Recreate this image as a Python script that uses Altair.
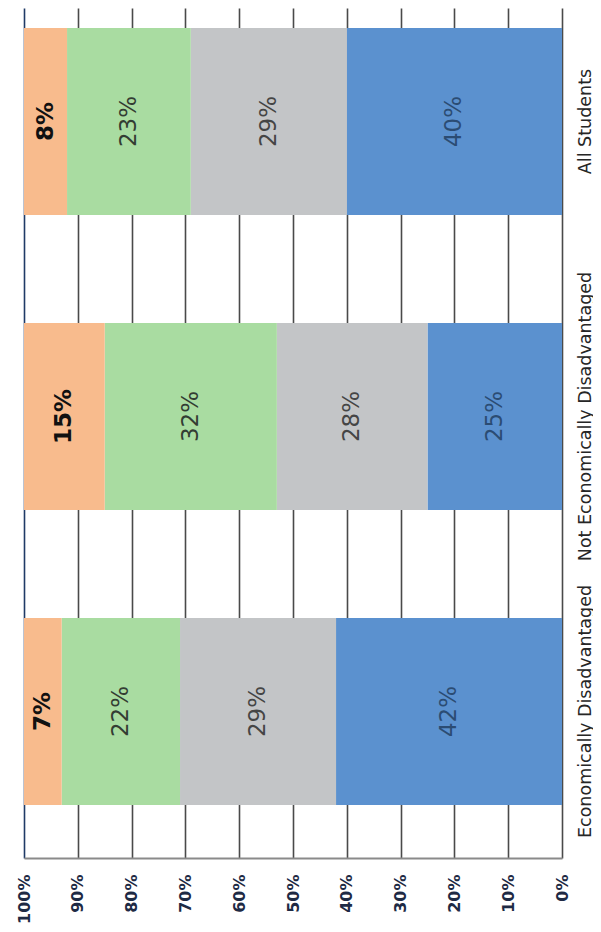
import altair as alt
import pandas as pd

# Categories (top to bottom as drawn)
categories = ["All Students", "Not Economically Disadvantaged", "Economically Disadvantaged"]
# Stack levels, from the 0% end (right) to the 100% end (left)
levels = ["Level 1", "Level 2", "Level 3", "Level 4"]
level_colors = ["#5B91CF", "#C3C5C7", "#A9DCA1", "#F8BB8D"]
label_colors = ["#2B4C73", "#454545", "#333D33", "#111111"]

values_all_students = [40, 29, 23, 8]
values_not_econ = [25, 28, 32, 15]
values_econ = [42, 29, 22, 7]

tick_values = [0.0, 0.1, 0.2, 0.3, 0.4, 0.5, 0.6, 0.7, 0.8, 0.9, 1.0]

series = {
    "All Students": values_all_students,
    "Not Economically Disadvantaged": values_not_econ,
    "Economically Disadvantaged": values_econ,
}

rows = []
for cat in categories:
    for i, lvl in enumerate(levels):
        rows.append({"category": cat, "level": lvl, "order": i,
                     "value": series[cat][i] / 100.0,
                     "label": f"{series[cat][i]}%"})
df = pd.DataFrame(rows)

y_enc = alt.Y(
    "category:N",
    sort=categories,
    scale=alt.Scale(domain=categories, paddingInner=0.366, paddingOuter=0.1237, align=0.274),
    axis=alt.Axis(
        orient="right", title=None, labelAngle=270, labelAlign="center", labelBaseline="top",
        labelPadding=14, labelFontSize=17.5, labelFont="DejaVu Sans", labelColor="#262626",
        labelLimit=500, domain=False, ticks=False, grid=False,
    ),
)

x_scale = alt.Scale(domain=[0, 1], reverse=True, nice=False, zero=True)

base = alt.Chart(df).transform_stack(
    stack="value", as_=["start", "end"], groupby=["category"],
    sort=[alt.SortField("order", order="ascending")],
).transform_calculate(mid="(datum.start + datum.end) / 2")

bars = base.mark_bar().encode(
    y=y_enc,
    x=alt.X(
        "start:Q", scale=x_scale,
        axis=alt.Axis(
            orient="bottom", title=None, values=tick_values, format=".0%",
            labelAngle=270, labelPadding=16, labelFontSize=16, labelFont="DejaVu Sans",
            labelFontWeight="bold", labelColor="#1E2A44", ticks=False,
            domainColor="#8A8A8A", domainWidth=2,
            gridColor={"condition": {"test": "datum.value == 1", "value": "#1F3A66"}, "value": "#4A4A4A"},
            gridWidth=1.6,
        ),
    ),
    x2="end:Q",
    color=alt.Color("level:N", scale=alt.Scale(domain=levels, range=level_colors), legend=None),
)

text_normal = base.transform_filter(alt.datum.order < 3).mark_text(
    angle=270, fontSize=23, font="DejaVu Sans", align="center", baseline="middle",
).encode(
    y=alt.Y("category:N", sort=categories),
    x=alt.X("mid:Q", scale=x_scale),
    text="label:N",
    color=alt.Color("level:N", scale=alt.Scale(domain=levels, range=label_colors), legend=None),
)

text_bold = base.transform_filter(alt.datum.order == 3).mark_text(
    angle=270, fontSize=23, font="DejaVu Sans", fontWeight="bold", align="center", baseline="middle",
    color="#111111",
).encode(
    y=alt.Y("category:N", sort=categories),
    x=alt.X("mid:Q", scale=x_scale),
    text="label:N",
)

chart = alt.layer(bars, text_normal, text_bold).resolve_scale(color="independent").properties(
    width=538, height=850,
    autosize=alt.AutoSizeParams(type="none"),
    padding={"left": 16, "top": 0, "right": 31, "bottom": 66},
    background="white",
).configure_view(stroke=None)

chart.save("out.html", embed_options={"renderer": "svg", "actions": False})
